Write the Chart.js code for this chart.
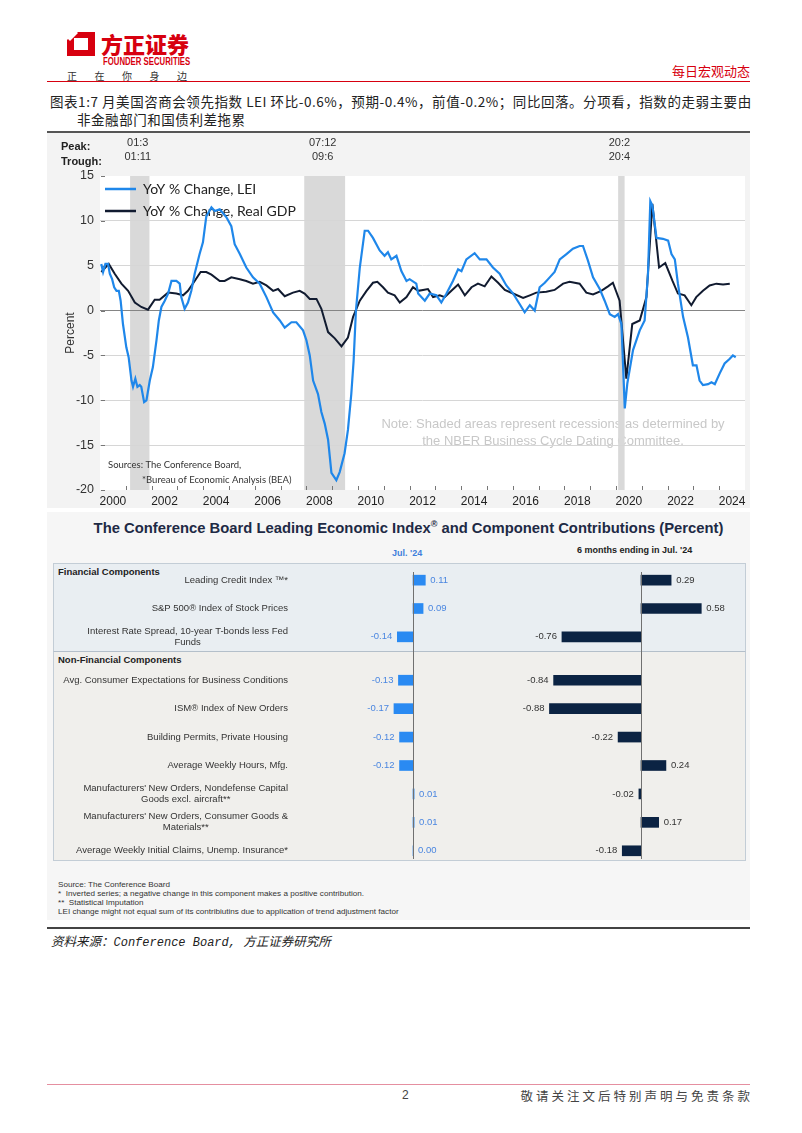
<!DOCTYPE html>
<html>
<head>
<meta charset="utf-8">
<script src="https://cdn.jsdelivr.net/npm/chart.js@4.4.1/dist/chart.umd.min.js"></script>
<style>
  body { margin: 0; width: 802px; height: 1133px; position: relative; overflow: hidden; background: #fff;
         font-family: "Liberation Sans", Arial, sans-serif; }
  .abs { position: absolute; }
  .cjk { font-family: "Noto Sans CJK SC", sans-serif; }
</style>
</head>
<body>

<!-- header -->
<svg class="abs" style="left:67px;top:32px" width="28" height="24" viewBox="0 0 28 24">
  <path d="M8 0 H28 V24 H0 V8 Z M7 6 V18 H21 V6 Z" fill="#d7000f" fill-rule="evenodd"/>
  <path d="M0 6 L8 -2 L11 1 L3 9 Z" fill="#fff"/>
</svg>
<div class="abs cjk" style="left:101px;top:27px;font-size:22px;font-weight:900;color:#d7000f">方正证券</div>
<div class="abs" style="left:103px;top:55px;font-size:10.5px;font-weight:bold;color:#d7000f;transform:scaleX(0.74);transform-origin:left top;white-space:nowrap">FOUNDER SECURITIES</div>
<div class="abs cjk" style="left:67px;top:68px;font-size:10px;color:#333;letter-spacing:17.5px;white-space:nowrap">正在你身边</div>
<div class="abs cjk" style="right:52px;top:61px;font-size:13px;color:#d7000f">每日宏观动态</div>
<div class="abs" style="left:47px;top:81px;width:703px;border-top:1px solid #d7000f"></div>

<div class="abs cjk" style="left:50px;top:91px;font-size:13.5px;color:#222;letter-spacing:0.55px;white-space:nowrap">图表1:7 月美国咨商会领先指数 LEI 环比-0.6%，预期-0.4%，前值-0.2%；同比回落。分项看，指数的走弱主要由</div>
<div class="abs cjk" style="left:77px;top:109px;font-size:13.5px;color:#222;letter-spacing:0.55px;white-space:nowrap">非金融部门和国债利差拖累</div>

<!-- line chart -->
<div class="abs" style="left:47px;top:131px;width:703px;border-top:2px solid #555"></div>
<div class="abs" style="left:47px;top:133px;width:703px;height:375px;background:#f3f3f3">
  <canvas id="leiChart" width="703" height="375"></canvas>
</div>

<!-- contributions panel -->
<div class="abs" style="left:47px;top:512px;width:703px;height:408px;background:#f6f6f6"></div>
<div class="abs" style="left:57px;top:519px;width:703px;text-align:center;font-size:14.8px;font-weight:bold;color:#1e2a45;white-space:nowrap">The Conference Board Leading Economic Index<sup style="font-size:9px">®</sup> and Component Contributions (Percent)</div>
<div class="abs" style="left:392px;top:548px;font-size:9px;font-weight:bold;color:#3f7fdc">Jul. '24</div>
<div class="abs" style="left:577px;top:545px;font-size:9px;font-weight:bold;color:#222">6 months ending in Jul. '24</div>

<div class="abs" style="left:53px;top:563px;width:691px;height:88px;background:#e9eef2;border:1px solid #c3cdd6;border-bottom:none"></div>
<div class="abs" style="left:53px;top:651px;width:691px;height:208px;background:#f0efec;border:1px solid #c3cdd6;border-top:1px solid #b4bfca"></div>
<div class="abs" style="left:58px;top:566px;font-size:9.5px;font-weight:bold;color:#222">Financial Components</div>
<div class="abs" style="left:58px;top:654px;font-size:9.5px;font-weight:bold;color:#222">Non-Financial Components</div>

<canvas id="finChart" class="abs" style="left:53px;top:563px" width="693" height="88"></canvas>
<canvas id="nonFinChart" class="abs" style="left:53px;top:651px" width="693" height="214"></canvas>

<div class="abs" style="left:58px;top:880px;font-size:8.1px;color:#333;line-height:9px;white-space:nowrap">
Source: The Conference Board<br>
*&nbsp; Inverted series; a negative change in this component makes a positive contribution.<br>
**&nbsp; Statistical Imputation<br>
LEI change might not equal sum of its contribiutins due to application of trend adjustment factor
</div>

<div class="abs" style="left:47px;top:927px;width:703px;border-top:2px solid #444"></div>
<div class="abs cjk" style="left:51px;top:931px;font-size:12.5px;font-style:italic;color:#222;white-space:nowrap">资料来源：<span style="font-family:'Liberation Mono',monospace;font-size:12px">Conference Board, </span>方正证券研究所</div>

<!-- footer -->
<div class="abs" style="left:47px;top:1084px;width:703px;border-top:1px solid #e58fa0"></div>
<div class="abs" style="left:402px;top:1088px;font-size:12px;color:#444">2</div>
<div class="abs cjk" style="right:52px;top:1086px;font-size:12.5px;color:#444;letter-spacing:3px;margin-right:-3px">敬请关注文后特别声明与免责条款</div>

<script>
// ---- line chart data (decimal year, percent) ----
const leiYears = [2000.05,2000.12,2000.21,2000.31,2000.38,2000.47,2000.55,2000.64,2000.73,2000.80,2000.89,2001.02,2001.11,2001.22,2001.28,2001.37,2001.45,2001.54,2001.60,2001.71,2001.80,2001.93,2002.05,2002.19,2002.28,2002.38,2002.51,2002.64,2002.77,2002.96,2003.09,2003.15,2003.28,2003.41,2003.54,2003.67,2003.86,2003.99,2004.12,2004.32,2004.45,2004.64,2004.90,2005.09,2005.22,2005.42,2005.67,2005.93,2006.19,2006.45,2006.71,2006.97,2007.16,2007.42,2007.61,2007.87,2008.00,2008.13,2008.26,2008.45,2008.58,2008.71,2008.84,2008.97,2009.16,2009.29,2009.48,2009.61,2009.74,2009.83,2009.92,2010.07,2010.26,2010.39,2010.58,2010.84,2011.03,2011.16,2011.29,2011.49,2011.68,2011.88,2012.00,2012.26,2012.33,2012.59,2012.78,2013.04,2013.23,2013.43,2013.68,2013.88,2014.01,2014.20,2014.52,2014.72,2014.98,2015.23,2015.49,2015.75,2016.01,2016.27,2016.46,2016.66,2016.85,2017.04,2017.24,2017.43,2017.62,2017.82,2018.08,2018.33,2018.59,2018.72,2018.91,2019.11,2019.37,2019.56,2019.76,2019.95,2020.08,2020.21,2020.34,2020.44,2020.66,2020.92,2021.11,2021.24,2021.33,2021.41,2021.57,2021.82,2022.02,2022.15,2022.28,2022.40,2022.60,2022.79,2022.98,2023.12,2023.24,2023.37,2023.57,2023.70,2023.83,2024.02,2024.21,2024.40,2024.53,2024.64];
const leiValues = [5.2,4.3,5.2,5.2,4.1,3.5,2.6,2.2,2.2,1.1,-1.5,-4.1,-5.2,-7.8,-8.5,-7.6,-8.5,-8.3,-8.5,-10.2,-10.0,-7.8,-6.3,-3.3,-1.1,0.4,1.1,1.9,3.3,3.3,3.0,1.5,0.2,0.9,2.2,4.1,6.3,7.6,10.5,11.5,11.1,11.3,10.4,9.4,7.4,6.3,4.8,3.7,3.0,1.5,-0.2,-1.1,-1.9,-1.3,-1.3,-2.2,-3.3,-5.0,-7.8,-9.3,-11.3,-12.6,-14.4,-18.1,-18.9,-18.0,-15.9,-13.3,-9.3,-5.6,0.0,4.8,8.9,8.9,8.1,6.7,6.1,6.5,5.7,6.1,4.4,3.3,3.5,3.0,1.9,1.1,1.9,1.7,0.9,1.9,3.3,4.6,4.4,5.7,6.4,5.7,5.7,4.8,4.1,2.8,1.9,0.7,-0.2,0.6,0.0,2.6,3.1,3.7,4.3,5.7,6.3,6.9,7.2,7.2,5.6,3.7,2.4,1.1,-0.4,-0.7,-0.4,-1.5,-10.9,-8.1,-4.4,-2.2,-1.1,4.1,12.2,11.7,8.1,8.0,7.8,6.3,5.7,3.0,-0.7,-3.0,-6.1,-6.1,-7.8,-8.3,-8.2,-8.0,-8.2,-7.0,-5.9,-5.4,-5.0,-5.2];

const gdpYears = [2000.05,2000.34,2000.57,2000.83,2001.09,2001.35,2001.60,2001.86,2002.12,2002.31,2002.64,2002.96,2003.22,2003.41,2003.67,2003.90,2004.12,2004.32,2004.64,2004.83,2005.09,2005.42,2005.67,2005.93,2006.19,2006.45,2006.71,2006.90,2007.16,2007.48,2007.74,2007.93,2008.13,2008.39,2008.58,2008.84,2009.10,2009.36,2009.61,2009.81,2010.07,2010.33,2010.58,2010.75,2010.97,2011.16,2011.42,2011.62,2011.88,2012.13,2012.33,2012.52,2012.71,2012.91,2013.17,2013.36,2013.62,2013.88,2014.14,2014.40,2014.65,2014.91,2015.17,2015.43,2015.69,2016.01,2016.40,2016.66,2016.91,2017.30,2017.62,2017.95,2018.20,2018.59,2018.85,2019.11,2019.43,2019.69,2019.88,2020.14,2020.40,2020.63,2020.92,2021.18,2021.41,2021.67,2021.91,2022.19,2022.40,2022.66,2022.92,2023.11,2023.37,2023.63,2023.89,2024.15,2024.41];
const gdpValues = [4.3,5.2,4.1,3.0,2.2,0.9,0.4,0.1,1.2,1.2,2.0,1.9,1.7,2.2,3.3,4.3,4.3,4.0,3.3,3.3,3.7,3.5,3.3,3.0,3.2,2.8,2.2,2.4,1.6,2.0,2.2,1.9,1.3,1.3,0.2,-2.4,-3.1,-4.0,-3.0,-0.7,1.1,2.2,3.1,3.2,2.6,2.0,1.7,0.9,1.5,2.6,2.2,2.3,2.4,1.5,1.7,1.5,2.2,2.9,1.7,2.6,3.0,2.7,3.8,3.1,2.3,1.9,1.4,1.7,2.0,2.1,2.3,3.0,3.2,3.0,2.0,1.8,2.2,2.7,3.1,1.1,-7.6,-1.5,-1.1,1.5,11.9,4.8,5.3,3.3,1.9,1.7,0.6,1.5,2.2,2.8,3.0,2.9,3.0];

// NBER recessions, "yy:m"
const recessionPeaks = ['01:3', '07:12', '20:2'];
const recessionTroughs = ['01:11', '09:6', '20:4'];

// ---- contributions data ----
const finLabels = ['Leading Credit Index \u2122*', 'S&P 500\u00ae Index of Stock Prices', ['Interest Rate Spread, 10-year T-bonds less Fed', 'Funds']];
const finMonth = [0.11, 0.09, -0.14];
const finSixMonth = [0.29, 0.58, -0.76];

const nonFinLabels = ['Avg. Consumer Expectations for Business Conditions', 'ISM\u00ae Index of New Orders', 'Building Permits, Private Housing', 'Average Weekly Hours, Mfg.', ['Manufacturers\' New Orders, Nondefense Capital', 'Goods excl. aircraft**'], ['Manufacturers\' New Orders, Consumer Goods &', 'Materials**'], 'Average Weekly Initial Claims, Unemp. Insurance*'];
const nonFinMonth = [-0.13, -0.17, -0.12, -0.12, 0.01, 0.01, 0.00];
const nonFinSixMonth = [-0.84, -0.88, -0.22, 0.24, -0.02, 0.17, -0.18];

const sans = '"Liberation Sans", Arial, sans-serif';
const softSans = 'Lato, "Open Sans", sans-serif';

function ym(s, end) {
  const [yy, m] = s.split(':').map(Number);
  return 2000 + yy + (end ? m : m - 1) / 12;
}

const lineDecor = {
  id: 'lineDecor',
  beforeDraw(chart) {
    const { ctx, chartArea: a, scales: { x } } = chart;
    ctx.save();
    ctx.fillStyle = '#fff';
    ctx.fillRect(a.left, a.top, a.right - a.left, a.bottom - a.top);

    ctx.fillStyle = '#c8c8c8';
    ctx.font = '13px ' + sans;
    ctx.textAlign = 'center';
    ctx.textBaseline = 'middle';
    ctx.fillText('Note: Shaded areas represent recessions as determined by', 506, 291);
    ctx.fillText('the NBER Business Cycle Dating Committee.', 506, 308);

    ctx.fillStyle = '#d9d9d9';
    recessionPeaks.forEach((p, i) => {
      const x0 = x.getPixelForValue(ym(p, false));
      const x1 = x.getPixelForValue(ym(recessionTroughs[i], true));
      ctx.fillRect(x0, a.top, x1 - x0, a.bottom - a.top);
    });

    // peak / trough header
    ctx.fillStyle = '#222';
    ctx.textAlign = 'left';
    ctx.font = 'bold 11px ' + sans;
    ctx.fillText('Peak:', 14, 14);
    ctx.fillText('Trough:', 14, 29);
    ctx.font = '11px ' + sans;
    ctx.textAlign = 'center';
    ctx.fillStyle = '#333';
    recessionPeaks.forEach((p, i) => {
      const cx = (x.getPixelForValue(ym(p, false)) + x.getPixelForValue(ym(recessionTroughs[i], true))) / 2 - 2;
      ctx.fillText(p, cx, 10);
      ctx.fillText(recessionTroughs[i], cx, 24);
    });
    ctx.restore();
  },
  beforeDatasetsDraw(chart) {
    const { ctx, chartArea: a, scales: { x, y } } = chart;
    ctx.save();
    // tick marks inside plot
    ctx.strokeStyle = '#777';
    ctx.lineWidth = 1;
    for (let yr = 2001; yr <= 2024; yr++) {
      const px = Math.round(x.getPixelForValue(yr)) + 0.5;
      ctx.beginPath(); ctx.moveTo(px, a.bottom - 4); ctx.lineTo(px, a.bottom); ctx.stroke();
    }
    y.ticks.forEach(t => {
      const py = Math.round(y.getPixelForValue(t.value)) + 0.5;
      ctx.beginPath(); ctx.moveTo(a.left + 1, py); ctx.lineTo(a.left + 5, py); ctx.stroke();
    });

    // sources
    ctx.fillStyle = '#333';
    ctx.font = '9.5px ' + softSans;
    ctx.textAlign = 'left';
    ctx.textBaseline = 'middle';
    ctx.fillText('Sources: The Conference Board,', 61, 332);
    ctx.fillText('*Bureau of Economic Analysis (BEA)', 95, 347);

    // legend
    ctx.font = '14px ' + softSans;
    chart.data.datasets.forEach((ds, i) => {
      const ly = 56 + i * 22;
      ctx.strokeStyle = ds.borderColor;
      ctx.lineWidth = 2.5;
      ctx.beginPath(); ctx.moveTo(58, ly); ctx.lineTo(89, ly); ctx.stroke();
      ctx.fillStyle = '#222';
      ctx.fillText(ds.label, 96, ly);
    });
    ctx.restore();
  }
};

new Chart(document.getElementById('leiChart'), {
  type: 'line',
  data: {
    datasets: [
      { label: 'YoY % Change, LEI', data: leiYears.map((v, i) => ({ x: v, y: leiValues[i] })),
        borderColor: '#1f87ea', borderWidth: 2.2, pointRadius: 0, tension: 0 },
      { label: 'YoY % Change, Real GDP', data: gdpYears.map((v, i) => ({ x: v, y: gdpValues[i] })),
        borderColor: '#111b30', borderWidth: 2, pointRadius: 0, tension: 0 }
    ]
  },
  options: {
    animation: false,
    responsive: false,
    maintainAspectRatio: false,
    layout: { padding: { top: 43, right: 5, left: 0, bottom: 0 } },
    plugins: { legend: { display: false }, tooltip: { enabled: false } },
    scales: {
      x: {
        type: 'linear', min: 2000, max: 2025,
        afterFit(s) { s.height = 18 },
        grid: { display: false, drawTicks: false },
        border: { display: false },
        ticks: {
          stepSize: 1, autoSkip: false, maxRotation: 0, labelOffset: 12.9, padding: 4,
          color: '#222', font: { size: 12, family: sans },
          callback: v => (v % 2 === 0 && v < 2025) ? String(v) : ''
        }
      },
      y: {
        min: -20, max: 15,
        afterFit(s) { s.width = 53 },
        border: { display: false },
        grid: {
          drawTicks: false, lineWidth: 1,
          color: c => c.tick.value === 0 ? '#858585' : (c.tick.value === 15 || c.tick.value === -20 ? 'rgba(0,0,0,0)' : '#d6d6d6')
        },
        ticks: { stepSize: 5, padding: 6, color: '#333', font: { size: 12.5, family: sans } },
        title: { display: true, text: 'Percent', color: '#333', font: { size: 12, family: sans }, padding: { top: 16, bottom: 0 } }
      }
    }
  },
  plugins: [lineDecor]
});

// ---- contribution bars ----
const barText = {
  id: 'barText',
  afterDatasetsDraw(chart) {
    const { ctx, scales } = chart;
    ctx.save();
    // zero axes
    ctx.strokeStyle = '#707070';
    ctx.lineWidth = 1;
    ['xL', 'xR'].forEach(id => {
      const px = Math.round(scales[id].getPixelForValue(0)) + 0.5;
      ctx.beginPath(); ctx.moveTo(px, chart.options.axisTop); ctx.lineTo(px, chart.options.axisBottom); ctx.stroke();
    });
    ctx.font = '9.5px ' + sans;
    ctx.textBaseline = 'middle';
    ctx.fillStyle = '#333';
    chart.data.labels.forEach((lab, i) => {
      const yc = scales.y.getPixelForValue(i);
      const lines = Array.isArray(lab) ? lab : [lab];
      const w = Math.max(...lines.map(l => ctx.measureText(l).width));
      lines.forEach((l, j) => {
        const ly = yc + (j - (lines.length - 1) / 2) * 11;
        if (lines.length > 1) { ctx.textAlign = 'center'; ctx.fillText(l, 235 - w / 2, ly); }
        else { ctx.textAlign = 'right'; ctx.fillText(l, 235, ly); }
      });
    });
    chart.data.datasets.forEach((ds, di) => {
      ctx.fillStyle = di === 0 ? '#4a86e0' : '#333';
      chart.getDatasetMeta(di).data.forEach((bar, i) => {
        const v = ds.data[i];
        if (v >= 0) { ctx.textAlign = 'left'; ctx.fillText(v.toFixed(2), Math.max(bar.x, bar.base) + 5, bar.y); }
        else { ctx.textAlign = 'right'; ctx.fillText(v.toFixed(2), bar.x - 5, bar.y); }
      });
    });
    ctx.restore();
  }
};

function contributionChart(id, labels, month, sixMonth, padTop, axisTop, axisBottom) {
  return new Chart(document.getElementById(id), {
    type: 'bar',
    data: {
      labels: labels,
      datasets: [
        { data: month, xAxisID: 'xL', backgroundColor: '#2a8af2', barThickness: 10, grouped: false },
        { data: sixMonth, xAxisID: 'xR', backgroundColor: '#0b2343', barThickness: 10, grouped: false }
      ]
    },
    options: {
      indexAxis: 'y',
      animation: false,
      responsive: false,
      axisTop: axisTop,
      axisBottom: axisBottom,
      layout: { padding: { top: padTop, left: 0, right: 0, bottom: 0 } },
      plugins: { legend: { display: false }, tooltip: { enabled: false } },
      scales: {
        y: { display: false },
        xL: { type: 'linear', axis: 'x', display: false, min: -3.214, max: 2.973 },
        xR: { type: 'linear', axis: 'x', display: false, min: -5.654, max: 1.01 }
      }
    },
    plugins: [barText]
  });
}

contributionChart('finChart', finLabels, finMonth, finSixMonth, 3, 9, 88);
contributionChart('nonFinChart', nonFinLabels, nonFinMonth, nonFinSixMonth, 15, 0, 208);
</script>
</body>
</html>
